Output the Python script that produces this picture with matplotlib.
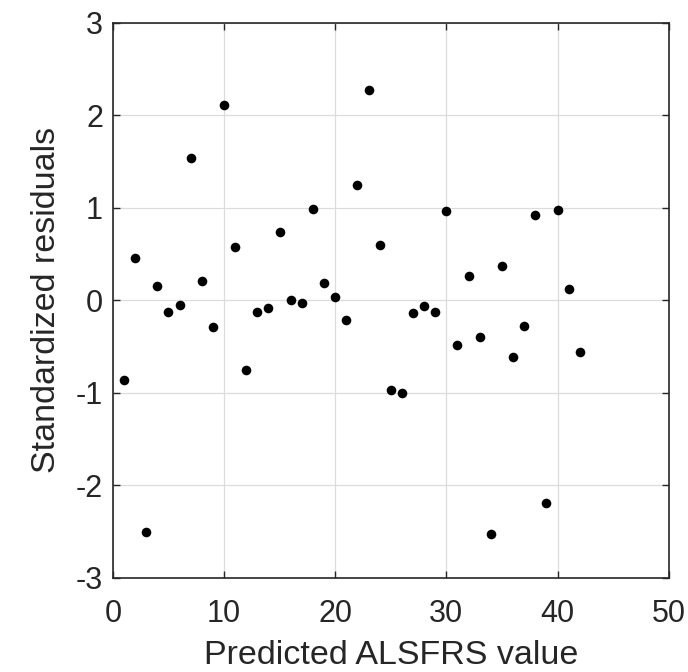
import matplotlib
matplotlib.use("Agg")
import matplotlib.pyplot as plt

predicted = list(range(1, 43))
residuals = [-0.86, 0.46, -2.50, 0.16, -0.13, -0.05, 1.54, 0.21, -0.29, 2.11,
             0.575, -0.755, -0.13, -0.08, 0.74, 0.00, -0.03, 0.99, 0.19, 0.04,
             -0.21, 1.25, 2.27, 0.60, -0.97, -1.00, -0.14, -0.06, -0.13, 0.97,
             -0.48, 0.26, -0.40, -2.52, 0.37, -0.61, -0.28, 0.92, -2.19, 0.98,
             0.12, -0.56]
xticks = [0, 10, 20, 30, 40, 50]
yticks = [-3, -2, -1, 0, 1, 2, 3]

plt.rcParams['font.family'] = ['Liberation Sans', 'DejaVu Sans']
plt.rcParams['axes.unicode_minus'] = False
fig = plt.figure(figsize=(6.88, 6.72), dpi=100)
ax = fig.add_axes([0.164, 0.140, 0.808, 0.826])
ax.scatter(predicted, residuals, s=48, color='black', zorder=3, linewidths=0)
ax.set_xlim(0, 50)
ax.set_ylim(-3, 3)
ax.set_xticks(xticks)
ax.set_yticks(yticks)
ax.grid(True, color='#dcdcdc', linewidth=0.9)
ax.set_axisbelow(True)
tc = '#262626'
for s in ax.spines.values():
    s.set_color(tc)
    s.set_linewidth(1.2)
ax.tick_params(direction='in', length=5, width=1.0, colors=tc, labelsize=22,
               top=True, right=True, labelcolor=tc)
ax.tick_params(axis='x', pad=15)
ax.tick_params(axis='y', pad=7)
ax.set_xlabel('Predicted ALSFRS value', fontsize=24.5, color=tc, labelpad=8)
ax.set_ylabel('Standardized residuals', fontsize=24.5, color=tc, labelpad=10)
fig.savefig('out.png', dpi=100)
